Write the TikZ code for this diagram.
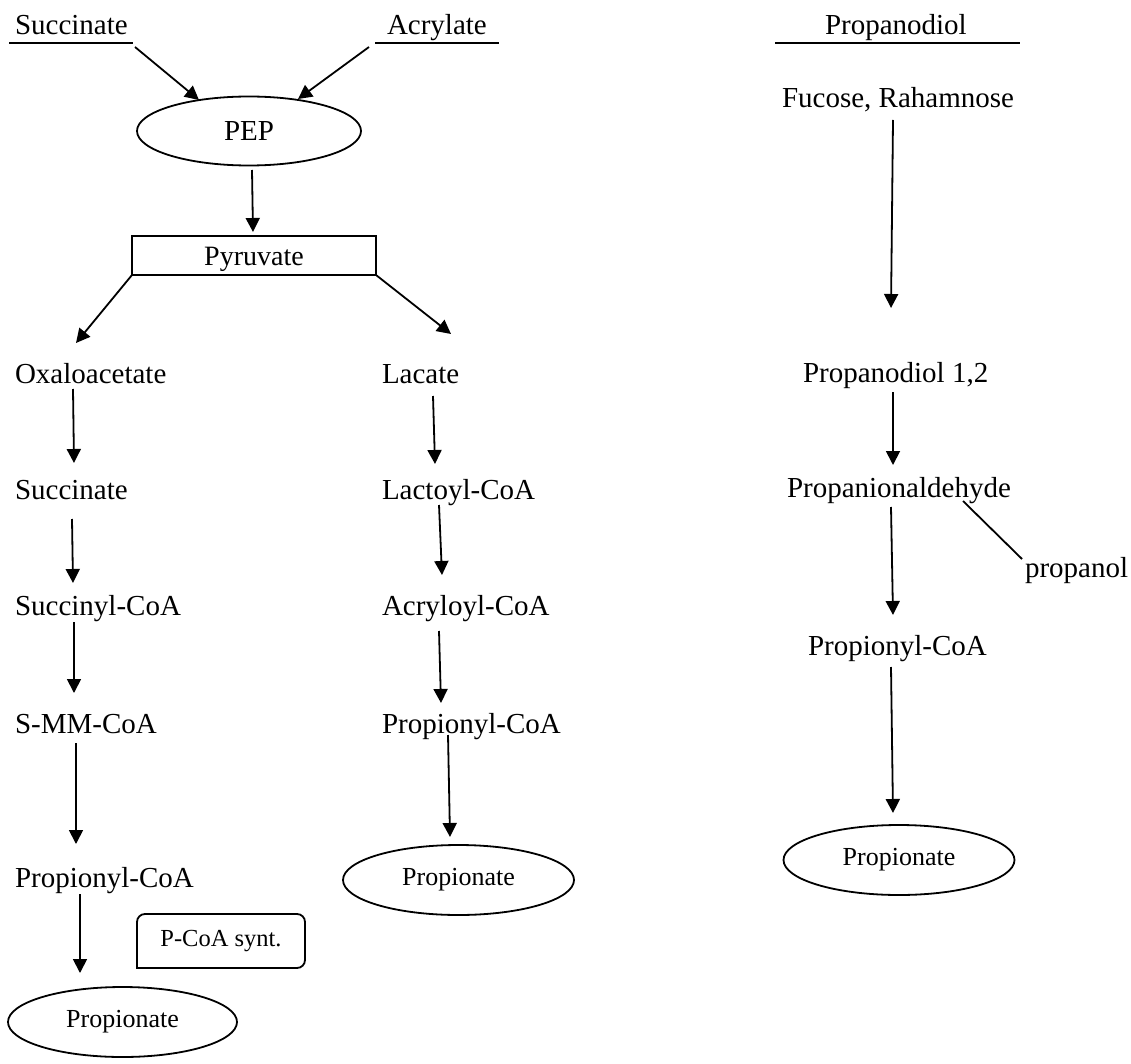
\documentclass[tikz,border=0pt]{standalone}
\usepackage{fontspec}
\setmainfont{Liberation Serif}
\usetikzlibrary{shapes.geometric,arrows.meta,calc}

\begin{document}
\begin{tikzpicture}[x=1pt,y=-1pt,
  every node/.style={inner sep=0pt,outer sep=0pt},
  lbl/.style={anchor=base west,font=\fontsize{29}{34}\selectfont},
  ln/.style={line width=1.8pt},
  arr/.style={line width=1.8pt,-{Triangle[length=14pt,width=14pt]}},
  oval/.style={ellipse,draw,line width=1.8pt,minimum width=229pt,minimum height=70pt,
               font=\fontsize{26}{30}\selectfont}]
\useasboundingbox (0,0) rectangle (1131,1064);

% column headers
\node[lbl] (sucT) at (15,35) {Succinate};
\node[lbl] (acrT) at (387,35) {Acrylate};
\node[lbl] (pdT)  at (825,35) {Propanodiol};
\draw[ln] ($(sucT.base west)+(-6,8)$) -- ($(sucT.base west)+(118,8)$);
\draw[ln] ($(acrT.base west)+(-12,8)$) -- ($(acrT.base west)+(112,8)$);
\draw[ln] ($(pdT.base west)+(-50,8)$) -- ($(pdT.base west)+(195,8)$);

% PEP and pyruvate
\node[oval,minimum width=224pt,minimum height=69pt,font=\fontsize{29}{34}\selectfont] (pep) at (249,131) {PEP};
\node[draw,line width=1.8pt,minimum width=244pt,minimum height=39pt,
      font=\fontsize{28}{32}\selectfont,text height=20pt,text depth=0pt] (pyr) at (254,255.5) {Pyruvate};

\draw[arr] ($(sucT.base west)+(120,12)$) -- ($(pep.center)+(-50,-31)$);
\draw[arr] ($(acrT.base west)+(-18,12)$) -- ($(pep.center)+(49,-32)$);
\draw[arr] ($(pep.center)+(3,39)$) -- ($(pyr.north)+(-1,-4)$);

% succinate route
\node[lbl] (oxa)   at (15,383) {Oxaloacetate};
\node[lbl] (suc)   at (15,499) {Succinate};
\node[lbl] (sucoa) at (15,615) {Succinyl-CoA};
\node[lbl] (smm)   at (15,733) {S-MM-CoA};
\node[lbl] (propL) at (15,887) {Propionyl-CoA};
\node[oval] (ellL) at (122.5,1022) {Propionate};
\node[minimum width=168pt,minimum height=54pt,font=\fontsize{24.5}{28}\selectfont] (pcoa) at (221,941) {P-CoA synt.};
\draw[ln,rounded corners=8pt,line cap=rect] (pcoa.south west) -- (pcoa.north west)
  -- (pcoa.north east) -- (pcoa.south east) -- (pcoa.south west);

\draw[arr] (pyr.south west) -- ($(oxa.base west)+(61,-40)$);
\draw[arr] ($(oxa.base west)+(58,6)$) -- ($(suc.base west)+(59,-36)$);
\draw[arr] ($(suc.base west)+(57,20)$) -- ($(sucoa.base west)+(58,-32)$);
\draw[arr] ($(sucoa.base west)+(59,7)$) -- ($(smm.base west)+(59,-40)$);
\draw[arr] ($(smm.base west)+(61,10)$) -- ($(propL.base west)+(61,-43)$);
\draw[arr] ($(propL.base west)+(65,7)$) -- ($(ellL.center)+(-42.5,-49)$);

% acrylate route
\node[lbl] (lac)   at (382,383) {Lacate};
\node[lbl] (lact)  at (382,499) {Lactoyl-CoA};
\node[lbl] (acr)   at (382,615) {Acryloyl-CoA};
\node[lbl] (propM) at (382,733) {Propionyl-CoA};
\node[oval,minimum width=231pt] (ellM) at (458.5,880) {Propionate};

\draw[arr] (pyr.south east) -- ($(lac.base west)+(69,-49)$);
\draw[arr] ($(lac.base west)+(51,13)$) -- ($(lact.base west)+(53,-35)$);
\draw[arr] ($(lact.base west)+(57,6)$) -- ($(acr.base west)+(60,-40)$);
\draw[arr] ($(acr.base west)+(57,16)$) -- ($(propM.base west)+(59,-30)$);
\draw[arr] ($(propM.base west)+(66,2)$) -- ($(ellM.center)+(-8.5,-43)$);

% propanediol route
\node[lbl] (fuc)   at (782,108) {Fucose, Rahamnose};
\node[lbl] (pd12)  at (803,382) {Propanodiol 1,2};
\node[lbl] (pald)  at (787,497) {Propanionaldehyde};
\node[lbl] (pnol)  at (1025,577) {propanol};
\node[lbl] (propR) at (808,655) {Propionyl-CoA};
\node[oval,minimum width=231pt] (ellR) at (899,860) {Propionate};

\draw[arr] ($(fuc.base west)+(111,12)$) -- ($(pd12.base west)+(88,-74)$);
\draw[arr] ($(pd12.base west)+(90,10)$) -- ($(pald.base west)+(106,-32)$);
\draw[arr] ($(pald.base west)+(104,10)$) -- ($(propR.base west)+(85,-40)$);
\draw[ln]  ($(pald.base west)+(176,4)$) -- ($(pnol.base west)+(-3,-18)$);
\draw[arr] ($(propR.base west)+(83,12)$) -- ($(ellR.center)+(-6,-47)$);
\end{tikzpicture}
\end{document}
